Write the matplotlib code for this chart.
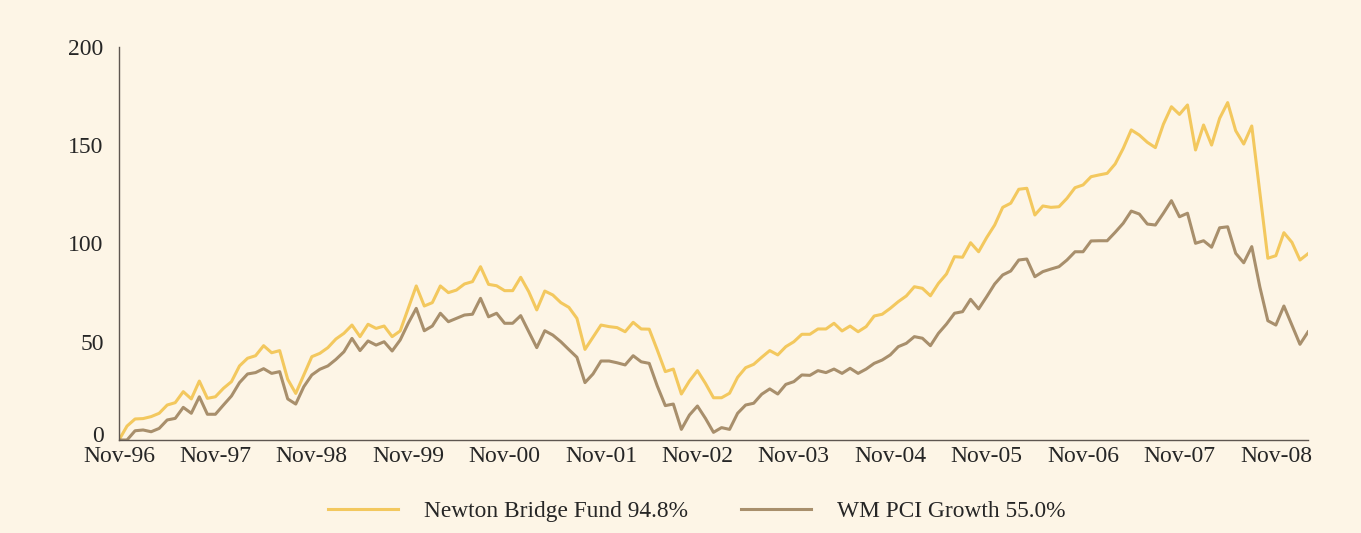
import matplotlib
matplotlib.use("Agg")
from matplotlib import pyplot as plt
from matplotlib import transforms
import numpy as np

# monthly cumulative growth (%) from Nov-96
fund = [0, 7.1, 10.7, 10.9, 11.9, 13.6, 17.8, 19.0, 24.6, 20.9, 30.0, 21.2,
        22.0, 26.3, 29.7, 37.7, 41.6, 42.9, 48.0, 44.4, 45.5, 30.9, 23.7, 33.1,
        42.4, 44.1, 47.0, 51.4, 54.3, 58.5, 52.6, 58.9, 56.8, 58.0, 52.6, 55.5,
        67.0, 78.4, 68.2, 69.9, 78.4, 75.0, 76.3, 79.4, 80.6, 88.2, 79.2, 78.5,
        76.0, 76.0, 82.8, 75.5, 66.2, 75.8, 73.8, 69.9, 67.5, 61.9, 46.1, 52.3,
        58.5, 57.7, 57.2, 55.1, 59.9, 56.5, 56.4, 45.8, 34.8, 36.1, 23.4, 30.0,
        35.3, 28.8, 21.5, 21.5, 23.8, 31.9, 36.8, 38.5, 42.1, 45.5, 43.3, 47.5,
        50.0, 53.8, 53.8, 56.5, 56.5, 59.4, 55.5, 58.0, 55.1, 57.7, 63.1, 64.0,
        67.0, 70.4, 73.3, 78.0, 77.2, 73.4, 79.7, 84.5, 93.3, 93.0, 100.4, 95.8,
        103.0, 109.4, 118.4, 120.5, 127.6, 128.1, 114.5, 119.1, 118.4, 118.7, 123.0, 128.4,
        129.8, 134.0, 134.9, 135.7, 140.5, 148.4, 157.8, 155.2, 151.5, 148.8, 160.7, 169.6,
        165.7, 170.5, 147.6, 160.3, 150.1, 163.7, 171.7, 157.4, 150.6, 159.8, 126.0, 92.5,
        93.8, 105.5, 100.6, 91.6, 94.8]

sector = [0, 0, 4.7, 5.1, 4.2, 5.9, 10.2, 11.0, 16.6, 13.6, 22.0, 13.1,
          13.1, 17.8, 22.4, 29.2, 33.6, 34.3, 36.3, 33.9, 34.8, 20.9, 18.3, 27.1,
          33.1, 36.0, 37.7, 41.0, 44.9, 51.7, 45.5, 50.4, 48.3, 50.0, 45.3, 50.9,
          59.4, 67.0, 55.6, 58.0, 64.5, 60.2, 61.9, 63.6, 64.0, 72.1, 62.7, 64.5,
          59.4, 59.4, 63.3, 55.1, 47.0, 55.6, 53.4, 50.0, 46.0, 42.1, 29.2, 33.6,
          40.2, 40.2, 39.3, 38.2, 42.9, 39.8, 39.0, 27.5, 17.5, 18.3, 5.4, 12.7,
          17.3, 11.0, 3.9, 6.3, 5.4, 13.6, 17.8, 18.7, 23.3, 26.0, 23.4, 28.3,
          29.7, 33.1, 32.9, 35.3, 34.3, 36.1, 33.9, 36.5, 33.9, 36.1, 39.0, 40.7,
          43.3, 47.5, 49.2, 52.6, 51.8, 48.0, 54.3, 59.0, 64.5, 65.3, 71.6, 66.7,
          72.9, 79.4, 84.0, 86.0, 91.6, 92.1, 83.1, 85.7, 87.0, 88.2, 91.6, 95.8,
          95.8, 101.3, 101.4, 101.4, 105.7, 110.3, 116.5, 115.0, 109.9, 109.4, 115.4, 121.8,
          113.6, 115.4, 100.1, 101.4, 98.1, 108.0, 108.5, 95.0, 90.2, 98.4, 78.0, 60.7,
          58.5, 68.2, 58.5, 48.7, 55.0]

tick_labels = ["Nov-96", "Nov-97", "Nov-98", "Nov-99", "Nov-00", "Nov-01", "Nov-02",
               "Nov-03", "Nov-04", "Nov-05", "Nov-06", "Nov-07", "Nov-08"]

bg = "#fdf5e6"
plt.rcParams["font.family"] = ["Liberation Serif", "DejaVu Serif"]

fig = plt.figure(figsize=(13.61, 5.33), dpi=100, facecolor=bg)
ax = fig.add_axes([119 / 1361, 1 - 440 / 533, (1308 - 119) / 1361, (440 - 47) / 533])
ax.set_facecolor(bg)

months = np.arange(len(fund))
ax.plot(months, fund, color="#f3c85e", lw=2.2, label="Newton Bridge Fund 94.8%")
ax.plot(months, sector, color="#a88f6c", lw=2.2, label="WM PCI Growth 55.0%")

ax.set_xlim(0, len(fund) - 1)
ax.set_ylim(0, 200)
ax.set_yticks([0, 50, 100, 150, 200])
ax.set_xticks(np.arange(len(tick_labels)) * 12)
ax.set_xticklabels(tick_labels)

for side in ["top", "right"]:
    ax.spines[side].set_visible(False)
for side in ["left", "bottom"]:
    ax.spines[side].set_color("#5e5650")
    ax.spines[side].set_linewidth(1.0)
ax.tick_params(axis="y", length=0, pad=11, labelsize=17, labelcolor="#262626")
ax.tick_params(axis="x", length=0, pad=4, labelsize=17, labelcolor="#262626")

# lift the "0" label a little so it clears "Nov-96"
zero_lbl = ax.get_yticklabels()[0]
zero_lbl.set_transform(zero_lbl.get_transform()
                       + transforms.ScaledTranslation(0, 6 / 100, fig.dpi_scale_trans))

fig.legend(loc="center", bbox_to_anchor=(0.512, 0.041), ncol=2, frameon=False,
           fontsize=16.8, labelcolor="#262626", handlelength=3.0,
           handletextpad=1.1, columnspacing=2.3)

plt.savefig("out.png", dpi=100, facecolor=bg)
